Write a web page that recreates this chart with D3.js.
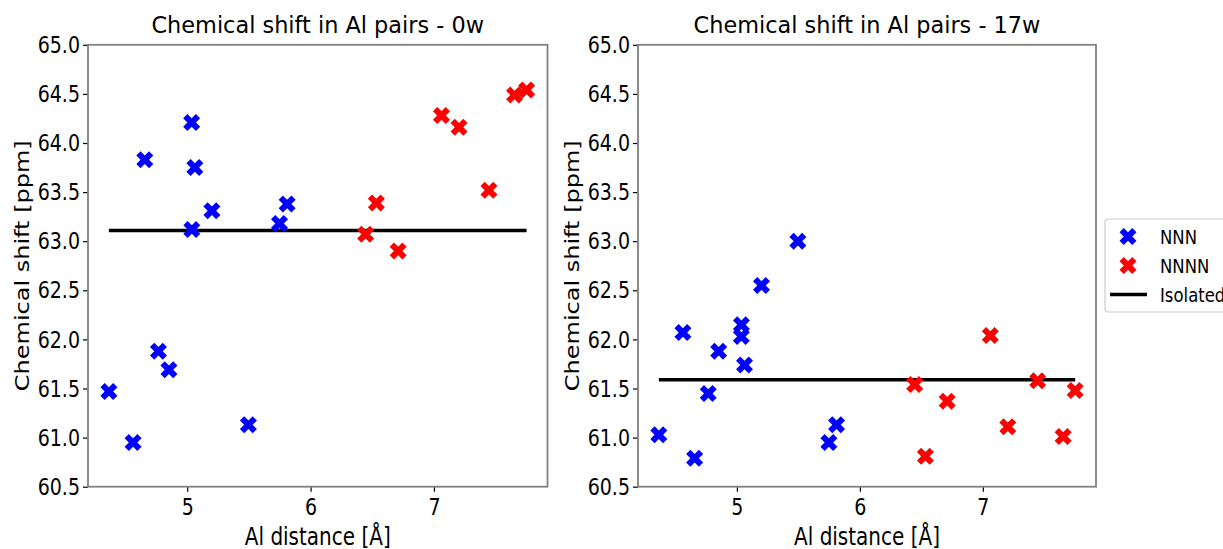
<!DOCTYPE html>
<html>
<head>
<meta charset="utf-8">
<script src="https://cdn.jsdelivr.net/npm/d3@7"></script>
<style>
  html, body { margin: 0; padding: 0; background: #fff; }
  svg { display: block; }
  text { font-family: "DejaVu Sans", sans-serif; fill: #000; }
</style>
</head>
<body>
<svg id="chart" width="1223" height="549"></svg>
<script>
// Al-Al distances (Å) of the pairs, shared by both panels
const nnnDistance  = [4.365, 4.561, 4.656, 4.767, 4.852, 5.036, 5.062, 5.037, 5.200, 5.496, 5.748, 5.810];
const nnnnDistance = [6.446, 6.533, 6.710, 7.061, 7.203, 7.446, 7.653, 7.751];

// Chemical shifts (ppm) at 0 weeks
const nnnShift0w  = [61.47, 60.95, 63.83, 61.88, 61.69, 64.21, 63.75, 63.12, 63.31, 61.13, 63.18, 63.38];
const nnnnShift0w = [63.07, 63.39, 62.90, 64.28, 64.16, 63.52, 64.49, 64.54];
const isolated0w  = 63.11;

// Chemical shifts (ppm) at 17 weeks
const nnnShift17w  = [61.03, 62.07, 60.79, 61.45, 61.88, 62.03, 61.74, 62.15, 62.55, 63.00, 60.95, 61.13];
const nnnnShift17w = [61.54, 60.81, 61.37, 62.04, 61.11, 61.58, 61.01, 61.48];
const isolated17w  = 61.59;

const panelTitles = ["Chemical shift in Al pairs - 0w", "Chemical shift in Al pairs - 17w"];
const yTicks = [60.5, 61.0, 61.5, 62.0, 62.5, 63.0, 63.5, 64.0, 64.5, 65.0];
const xTicks = [5, 6, 7];
const legendLabels = ["NNN", "NNNN", "Isolated"];
const seriesColors = ["#0000ff", "#ff0000", "#000000"];

const svg = d3.select("#chart");

// x range padded by 5% of the data span on each side
const allX = nnnDistance.concat(nnnnDistance);
const xMin = d3.min(allX), xMax = d3.max(allX);
const xPad = (xMax - xMin) * 0.05;

const panels = [
  { left: 88,  right: 547.5, nnn: nnnShift0w,  nnnn: nnnnShift0w,  iso: isolated0w,  title: panelTitles[0] },
  { left: 638, right: 1096,  nnn: nnnShift17w, nnnn: nnnnShift17w, iso: isolated17w, title: panelTitles[1] }
];
const plotTop = 44.8, plotBottom = 486.7;
const textStretch = 1.22;   // glyphs are drawn slightly taller than wide

// filled "X" marker outline, unit size
const xMarkerPts = [[-1,-2],[0,-1],[1,-2],[2,-1],[1,0],[2,1],[1,2],[0,1],[-1,2],[-2,1],[-1,0],[-2,-1]]
  .map(p => [p[0] / 4, p[1] / 4]);
function xMarkerPath(size) {
  return "M" + xMarkerPts.map(p => [p[0] * size, p[1] * size].join(",")).join("L") + "Z";
}
const markerSize = 17;

panels.forEach(p => {
  const x = d3.scaleLinear().domain([xMin - xPad, xMax + xPad]).range([p.left, p.right]);
  const y = d3.scaleLinear().domain([60.5, 65.0]).range([plotBottom, plotTop]);
  const g = svg.append("g");

  // axes
  const yAxis = d3.axisLeft(y).tickValues(yTicks).tickFormat(d3.format(".1f")).tickSize(5);
  const xAxis = d3.axisBottom(x).tickValues(xTicks).tickFormat(d3.format("d")).tickSize(5);

  const ya = g.append("g").attr("transform", `translate(${p.left},0)`).call(yAxis);
  const xa = g.append("g").attr("transform", `translate(0,${plotBottom})`).call(xAxis);
  [ya, xa].forEach(a => {
    a.select(".domain").remove();
    a.selectAll(".tick line").attr("stroke", "#000").attr("stroke-width", 1.2);
    a.selectAll(".tick text").style("font-family", "DejaVu Sans").style("font-size", "19px").attr("fill", "#000");
  });
  ya.selectAll(".tick text")
    .attr("x", 0).attr("y", 0).attr("dy", "0.33em")
    .attr("transform", `translate(-8,0) scale(1,${textStretch})`);
  xa.selectAll(".tick text")
    .attr("y", 0).attr("dy", 0)
    .attr("transform", `translate(0,28.5) scale(1,${textStretch})`);

  // frame
  g.append("rect")
    .attr("x", p.left).attr("y", plotTop)
    .attr("width", p.right - p.left).attr("height", plotBottom - plotTop)
    .attr("fill", "none").attr("stroke", "#808080").attr("stroke-width", 1.8);

  // isolated reference line across the data span
  g.append("line")
    .attr("x1", x(xMin)).attr("x2", x(xMax))
    .attr("y1", y(p.iso)).attr("y2", y(p.iso))
    .attr("stroke", seriesColors[2]).attr("stroke-width", 3.5);

  // markers
  const pts = nnnDistance.map((d, i) => ({ d, v: p.nnn[i], c: seriesColors[0] }))
    .concat(nnnnDistance.map((d, i) => ({ d, v: p.nnnn[i], c: seriesColors[1] })));
  g.selectAll("path.pt").data(pts).enter().append("path")
    .attr("class", "pt")
    .attr("d", xMarkerPath(markerSize))
    .attr("transform", d => `translate(${x(d.d)},${y(d.v)})`)
    .attr("fill", d => d.c);

  const cx = (p.left + p.right) / 2;
  // title
  g.append("text").attr("x", cx).attr("y", 33)
    .attr("text-anchor", "middle").style("font-size", "22.4px").text(p.title);

  // x label
  g.append("text")
    .attr("transform", `translate(${cx},545) scale(1,1.2)`)
    .attr("text-anchor", "middle").style("font-size", "20px").text("Al distance [Å]");

  // y label
  g.append("text")
    .attr("transform", `translate(${p.left - 59},${(plotTop + plotBottom) / 2}) rotate(-90) scale(1.2,1)`)
    .attr("text-anchor", "middle").style("font-size", "20px").text("Chemical shift [ppm]");
});

// legend
const lg = svg.append("g");
lg.append("rect").attr("x", 1105).attr("y", 219).attr("width", 140).attr("height", 93)
  .attr("rx", 3).attr("fill", "#fff").attr("stroke", "#cccccc").attr("stroke-width", 1.2);
const legendY = [236.5, 265.5, 294.5];
legendLabels.forEach((lab, i) => {
  if (i < 2) {
    lg.append("path").attr("d", xMarkerPath(markerSize))
      .attr("transform", `translate(1128,${legendY[i]})`).attr("fill", seriesColors[i]);
  } else {
    lg.append("line").attr("x1", 1110).attr("x2", 1147).attr("y1", legendY[i]).attr("y2", legendY[i])
      .attr("stroke", seriesColors[2]).attr("stroke-width", 3.5);
  }
  lg.append("text")
    .attr("transform", `translate(1160,${legendY[i] + 7}) scale(1,1.2)`)
    .style("font-size", "16.5px").text(lab);
});
</script>
</body>
</html>
